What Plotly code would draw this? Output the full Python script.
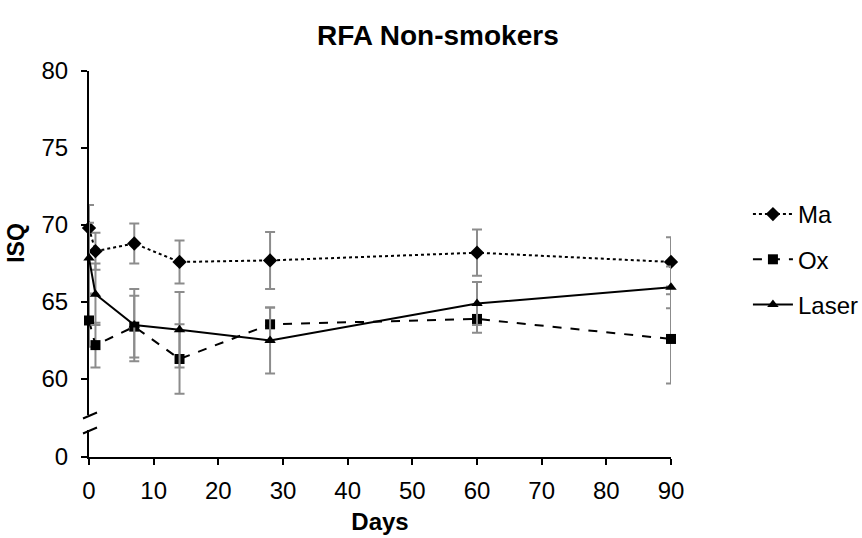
import plotly.graph_objects as go

# Follow-up days and mean ISQ values with their error margins
days = [0, 1, 7, 14, 28, 60, 90]
ma = [69.8, 68.3, 68.8, 67.6, 67.7, 68.2, 67.6]
ma_err = [1.5, 1.2, 1.3, 1.4, 1.85, 1.5, 1.6]
ox = [63.8, 62.2, 63.4, 61.3, 63.55, 63.9, 62.6]
ox_err = [1.7, 1.45, 2.0, 2.25, 1.1, 0.9, 2.9]
laser = [67.85, 65.5, 63.5, 63.2, 62.5, 64.9, 65.95]
laser_err = [2.3, 2.0, 2.35, 2.45, 2.15, 1.4, 1.35]

x_ticks = [0, 10, 20, 30, 40, 50, 60, 70, 80, 90]
y_ticks_upper = [60, 65, 70, 75, 80]
y_ticks_lower = [0]

FONT = "Liberation Sans, Arial, sans-serif"
W, H = 862, 538
L, R, T, B = 88.5, 191, 71, 81
plot_w = W - L - R
plot_h = H - T - B

def py(pix):
    """pixel row -> paper y"""
    return (H - B - pix) / plot_h

def px(pix):
    """pixel column -> paper x"""
    return (pix - L) / plot_w

series = [
    ("Ma", ma, ma_err, "dot", "diamond", 11),
    ("Ox", ox, ox_err, "dash", "square", 10),
    ("Laser", laser, laser_err, "solid", "triangle-up", 10),
]

fig = go.Figure()
for name, vals, err, dash, sym, size in series:
    fig.add_trace(go.Scatter(
        x=days, y=vals, name=name, mode="lines+markers",
        line=dict(color="black", width=2, dash=dash),
        marker=dict(symbol=sym, size=size, color="black"),
        error_y=dict(type="data", array=err, visible=True,
                     color="#8c8c8c", thickness=2, width=5),
        legendgroup=name, cliponaxis=False,
        xaxis="x", yaxis="y",
    ))

# empty trace so the short lower segment of the value axis gets drawn
fig.add_trace(go.Scatter(x=[], y=[], xaxis="x", yaxis="y2",
                         showlegend=False, hoverinfo="skip"))

upper_bottom = py(415)
lower_top = py(430)

axis_common = dict(showline=True, linecolor="black", linewidth=2,
                   ticks="outside", ticklen=6, tickwidth=2, tickcolor="black",
                   showgrid=False, zeroline=False, tickfont=dict(size=24),
                   automargin=False)

fig.update_layout(
    width=W, height=H,
    margin=dict(l=L, r=R, t=T, b=B, pad=0, autoexpand=False),
    paper_bgcolor="white", plot_bgcolor="white",
    font=dict(family=FONT, size=24, color="black"),
    title=dict(text="<b>RFA Non-smokers</b>", x=0.508, xref="container",
               xanchor="center", y=1 - 35 / H, yanchor="middle",
               font=dict(family=FONT, size=28, color="black")),
    xaxis=dict(range=[0, 90], tickvals=x_ticks, anchor="y2",
               ticklabelstandoff=5,
               title=dict(text="<b>Days</b>", font=dict(size=24), standoff=10),
               **axis_common),
    yaxis=dict(domain=[upper_bottom, 1], range=[60 - (415 - 379) / 15.4, 80],
               tickvals=y_ticks_upper, anchor="x", ticklabelstandoff=8,
               title=dict(text="<b>ISQ</b>", font=dict(size=23), standoff=10),
               **axis_common),
    yaxis2=dict(domain=[0, lower_top], range=[0, 10], tickvals=y_ticks_lower,
                anchor="x", ticklabelstandoff=8, **axis_common),
    legend=dict(x=px(748), y=py(192), xanchor="left", yanchor="top",
                font=dict(size=24), tracegroupgap=11,
                bgcolor="rgba(0,0,0,0)", itemwidth=40),
    showlegend=True,
)

# Slanted marks showing the break in the value axis
for y0 in (418.5, 433.5):
    fig.add_shape(type="line", xref="paper", yref="paper",
                  x0=px(82.5), y0=py(y0), x1=px(96.5), y1=py(y0 - 6),
                  line=dict(color="black", width=2))

fig.write_html("out.html")
